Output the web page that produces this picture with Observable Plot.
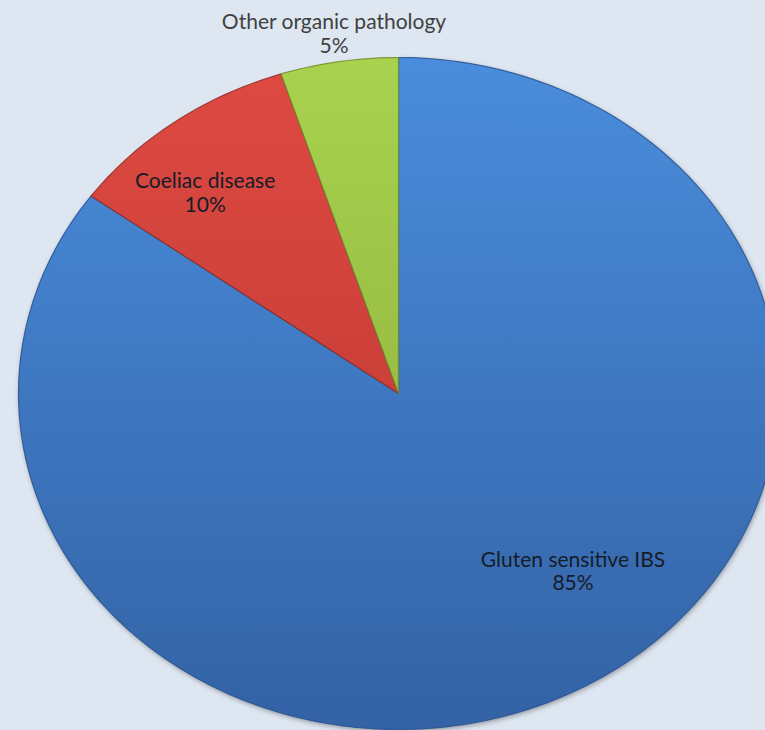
<!DOCTYPE html>
<html>
<head>
<meta charset="utf-8">
<script src="https://cdn.jsdelivr.net/npm/d3@7"></script>
<script src="https://cdn.jsdelivr.net/npm/@observablehq/plot@0.6"></script>
<style>
  html, body { margin: 0; padding: 0; background: #dde6f1; }
  #chart { width: 765px; height: 730px; overflow: hidden; }
</style>
</head>
<body>
<div id="chart"></div>
<script>
// ---- data ----
const categories = ["Gluten sensitive IBS", "Coeliac disease", "Other organic pathology"];
const values = [85, 10, 5];

// ---- styling ----
const topColors = ["#4a8ddc", "#de4a42", "#a9d24f"];
const bottomColors = ["#3362a5", "#b83530", "#86a838"];
const edgeColors = ["#2c5590", "#8e2a26", "#6b8a2a"];
// label placement: [radius fraction, angle shift in degrees]
const labelPlacement = [[0.70, -14], [0.785, -4.4], [1.085, 0]];

const total = d3.sum(values);
const arcs = d3.pie().sort(null).value(d => d)(values);

// polygon points of each slice, in unit-circle space (y up)
const slicePoints = [];
arcs.forEach((a, i) => {
  const n = Math.max(4, Math.ceil((a.endAngle - a.startAngle) / (Math.PI * 2) * 360));
  slicePoints.push({k: categories[i], x: 0, y: 0});
  for (let j = 0; j <= n; j++) {
    const t = a.startAngle + (a.endAngle - a.startAngle) * j / n;
    slicePoints.push({k: categories[i], x: Math.sin(t), y: Math.cos(t)});
  }
  slicePoints.push({k: categories[i], x: 0, y: 0});
});

const labels = arcs.map((a, i) => {
  const [r, shift] = labelPlacement[i];
  const t = (a.startAngle + a.endAngle) / 2 + shift * Math.PI / 180;
  return {
    text: `${categories[i]}\n${Math.round(values[i] / total * 100)}%`,
    x: r * Math.sin(t),
    y: r * Math.cos(t),
    outside: r > 1
  };
});

const defs = () => {
  const g = d3.create("svg:g");
  const d = g.append("defs");
  categories.forEach((c, i) => {
    const lg = d.append("linearGradient")
      .attr("id", "grad" + i)
      .attr("gradientUnits", "userSpaceOnUse")
      .attr("x1", 0).attr("x2", 0).attr("y1", 57).attr("y2", 729);
    lg.append("stop").attr("offset", "0%").attr("stop-color", topColors[i]);
    lg.append("stop").attr("offset", "100%").attr("stop-color", bottomColors[i]);
  });
  const f = d.append("filter").attr("id", "shadow")
    .attr("x", "-10%").attr("y", "-10%").attr("width", "120%").attr("height", "120%");
  f.append("feDropShadow").attr("dx", 1).attr("dy", 2).attr("stdDeviation", 2.5)
    .attr("flood-color", "#000").attr("flood-opacity", 0.35);
  return g.node();
};

const sliceMarks = categories.map((c, i) => Plot.line(
  slicePoints.filter(p => p.k === c),
  {x: "x", y: "y", fill: `url(#grad${i})`, stroke: edgeColors[i], strokeWidth: 1.2,
   strokeOpacity: 0.8, curve: "linear-closed"}
));

const chart = Plot.plot({
  width: 765,
  height: 730,
  margin: 0,
  style: {background: "#dde6f1", overflow: "hidden"},
  x: {domain: [-398 / 380, (765 - 398) / 380], axis: null},
  y: {domain: [(393 - 730) / 336, 393 / 336], axis: null},
  marks: [
    defs,
    Plot.line(slicePoints.filter(p => p.k === categories[0]),
      {x: "x", y: "y", fill: "#3362a5", stroke: "none", curve: "linear-closed", render: (index, scales, values, dims, ctx, next) => {
        const el = next(index, scales, values, dims, ctx);
        el.setAttribute("filter", "url(#shadow)");
        return el;
      }}),
    ...sliceMarks,
    Plot.text(labels, {
      x: "x", y: "y", text: "text",
      fill: d => d.outside ? "#404040" : "#151c28",
      fontSize: 21, lineHeight: 1.13,
      fontFamily: "Lato, 'Open Sans', sans-serif"
    })
  ]
});
document.getElementById("chart").appendChild(chart);
</script>
</body>
</html>
